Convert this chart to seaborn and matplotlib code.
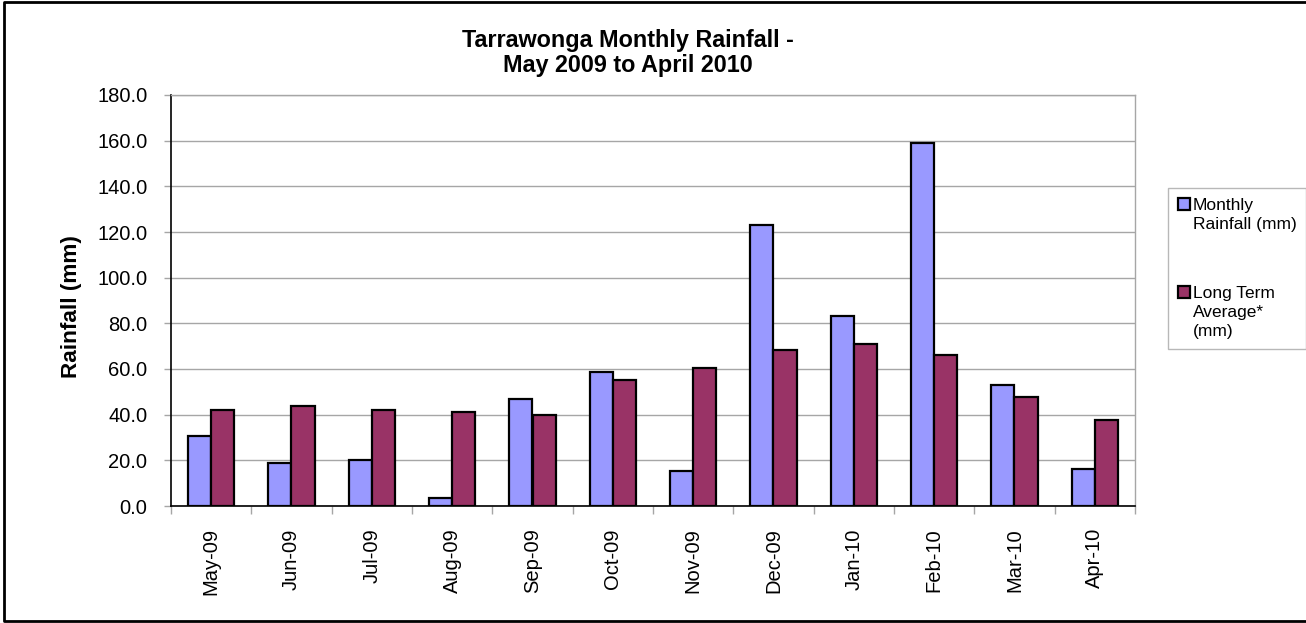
import numpy as np
import pandas as pd
import seaborn as sns
import matplotlib.pyplot as plt
from matplotlib.lines import Line2D

# Data
months = ['May-09', 'Jun-09', 'Jul-09', 'Aug-09', 'Sep-09', 'Oct-09',
          'Nov-09', 'Dec-09', 'Jan-10', 'Feb-10', 'Mar-10', 'Apr-10']
monthly_rain = [30.8, 18.7, 20.3, 3.4, 47.0, 58.7, 15.3, 123.1, 83.2, 158.9, 52.9, 16.2]
long_term_avg = [42.2, 43.7, 42.0, 41.2, 39.7, 55.0, 60.6, 68.5, 71.1, 66.3, 47.9, 37.5]
series_names = ['Monthly\nRainfall (mm)', 'Long Term\nAverage*\n(mm)']
y_ticks = [0, 20, 40, 60, 80, 100, 120, 140, 160, 180]
bar_colors = ['#9999FF', '#993366']

df = pd.DataFrame({
    'month': months * 2,
    'rain': monthly_rain + long_term_avg,
    'series': [series_names[0]] * len(months) + [series_names[1]] * len(months),
})

sns.set_style('white', {'text.color': 'black', 'axes.labelcolor': 'black',
                        'xtick.color': 'black', 'ytick.color': 'black'})
plt.rcParams['font.family'] = ['Liberation Sans', 'DejaVu Sans']

fig = plt.figure(figsize=(13.06, 6.23), dpi=100)
ax = fig.add_axes([171 / 1306, 117 / 623, 964 / 1306, 411 / 623])

sns.barplot(data=df, x='month', y='rain', hue='series', palette=bar_colors,
            width=0.573, saturation=1, edgecolor='black', linewidth=1.6,
            errorbar=None, legend=False, ax=ax)

# y axis
ax.set_ylim(0, 180)
ax.set_yticks(y_ticks)
ax.set_yticklabels([f'{v:.1f}' for v in y_ticks])
ax.yaxis.grid(True, color='#a6a6a6', linewidth=1)
ax.set_axisbelow(True)
ax.tick_params(axis='y', left=True, length=5, width=1, color='#a6a6a6',
               labelcolor='black', pad=12, labelsize=14.5)
ax.set_ylabel('')

# x axis: labels at centres, tick marks at category boundaries
ax.set_xlim(-0.5, len(months) - 0.5)
ax.set_xticks(range(len(months)))
ax.set_xticklabels(months, rotation=90)
ax.set_xticks(np.arange(-0.5, len(months), 1), minor=True)
ax.tick_params(axis='x', which='major', length=0, pad=16, labelsize=14.5)
ax.tick_params(axis='x', which='minor', bottom=True, length=6, width=1,
               color='#a6a6a6')
ax.set_xlabel('')

for side in ['top', 'right']:
    ax.spines[side].set_color('#a6a6a6')
    ax.spines[side].set_linewidth(1)
for side in ['left', 'bottom']:
    ax.spines[side].set_color('black')
    ax.spines[side].set_linewidth(1.2)

fig.text(628 / 1306, 1 - 53 / 623, 'Tarrawonga Monthly Rainfall -\nMay 2009 to April 2010',
         ha='center', va='center', fontsize=16.8, fontweight='bold', linespacing=1.1)
fig.text(72 / 1306, 1 - 307 / 623, 'Rainfall (mm)', rotation=90,
         ha='center', va='center', fontsize=16.2, fontweight='bold')

leg = fig.legend(handles=list(ax.containers), labels=series_names,
                 loc='upper left', bbox_to_anchor=(1168 / 1306, 1 - 188 / 623),
                 bbox_transform=fig.transFigure, frameon=True, fancybox=False,
                 edgecolor='#a6a6a6', fontsize=12.5, handlelength=0.72,
                 handleheight=0.72, handletextpad=0.15, labelspacing=3.1,
                 borderpad=0.55, borderaxespad=0)
leg.get_frame().set_linewidth(1)
for txt in leg.get_texts():
    txt.set_linespacing(1.35)
for col in leg._legend_handle_box.get_children():
    for item in col.get_children():
        item.align = 'top'

# outer chart border
fig.add_artist(Line2D([1.0, 0.003, 0.003, 1.0], [0.997, 0.997, 0.003, 0.003],
                      transform=fig.transFigure, color='black', linewidth=2))

fig.savefig('out.png', dpi=100)
